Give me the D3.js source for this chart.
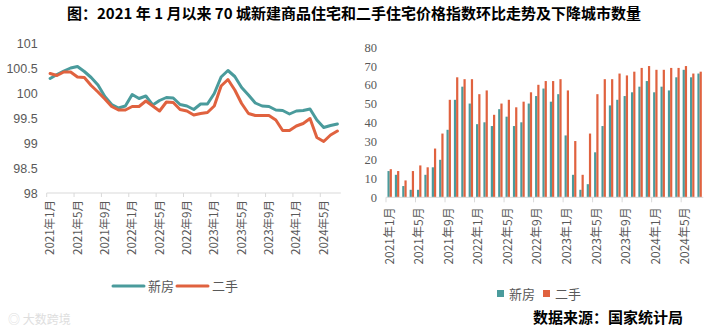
<!DOCTYPE html>
<html>
<head>
<meta charset="utf-8">
<script src="https://cdn.jsdelivr.net/npm/d3@7"></script>
<style>
  body { margin: 0; background: #fff; }
  svg text { font-family: "Noto Sans CJK SC", "Liberation Sans", sans-serif; }
</style>
</head>
<body>
<svg id="chart" width="708" height="334"></svg>
<script>
// months on the x axis (Jan 2021 - Jul 2024)
var months = [
  "2021年1月","2021年2月","2021年3月","2021年4月","2021年5月","2021年6月","2021年7月","2021年8月","2021年9月","2021年10月","2021年11月","2021年12月",
  "2022年1月","2022年2月","2022年3月","2022年4月","2022年5月","2022年6月","2022年7月","2022年8月","2022年9月","2022年10月","2022年11月","2022年12月",
  "2023年1月","2023年2月","2023年3月","2023年4月","2023年5月","2023年6月","2023年7月","2023年8月","2023年9月","2023年10月","2023年11月","2023年12月",
  "2024年1月","2024年2月","2024年3月","2024年4月","2024年5月","2024年6月","2024年7月"
];
var tickLabels = ["2021年1月","2021年5月","2021年9月","2022年1月","2022年5月","2022年9月",
  "2023年1月","2023年5月","2023年9月","2024年1月","2024年5月"];

// price index, previous month = 100
var newIndex = [100.29,100.37,100.44,100.50,100.53,100.43,100.31,100.16,99.93,99.77,99.70,99.74,
  99.97,99.89,99.94,99.76,99.85,99.91,99.90,99.77,99.74,99.67,99.78,99.78,
  99.99,100.32,100.45,100.33,100.11,99.96,99.80,99.74,99.73,99.66,99.65,99.58,
  99.64,99.65,99.68,99.46,99.31,99.35,99.38];
var oldIndex = [100.39,100.35,100.42,100.42,100.32,100.31,100.15,100.02,99.88,99.73,99.66,99.66,
  99.73,99.73,99.84,99.74,99.64,99.82,99.81,99.67,99.64,99.56,99.59,99.61,
  99.74,100.14,100.27,100.06,99.79,99.59,99.55,99.55,99.55,99.46,99.25,99.25,
  99.34,99.39,99.49,99.11,99.03,99.16,99.24];
var leftTicks = [98, 98.5, 99, 99.5, 100, 100.5, 101];

// number of cities with falling prices
var newDown = [14,12,6,4,4,12,16,20,36,52,59,50,
  39,40,38,47,43,38,40,50,54,58,51,55,
  33,12,4,7,24,38,49,52,54,56,59,62,
  56,59,57,64,68,64,66];
var oldDown = [15,14,9,14,17,16,26,34,52,64,63,63,
  55,57,44,50,52,48,51,56,60,62,62,63,
  57,30,12,34,55,63,63,66,65,67,69,70,
  68,68,69,69,70,66,67];
var rightTicks = [0,10,20,30,40,50,60,70,80];

var series = ["新房", "二手"];
var teal = "#4a9b9c", orange = "#e0623f";
var axisGrey = "#d9d9d9", textGrey = "#595959";

var svg = d3.select("#chart");

// title
svg.append("text")
  .attr("x", 354).attr("y", 19)
  .attr("text-anchor", "middle")
  .style("font-size", "15px").style("font-weight", "bold")
  .attr("fill", "#000")
  .text("图：2021 年 1 月以来 70 城新建商品住宅和二手住宅价格指数环比走势及下降城市数量");

// ---------- left: line chart ----------
var lx = d3.scaleBand().domain(months).range([46.7, 340.8]);
var ly = d3.scaleLinear().domain([98, 101]).range([193, 43]);

svg.append("g")
  .attr("transform", "translate(46.7,0)")
  .call(d3.axisLeft(ly).tickValues(leftTicks).tickSize(0).tickPadding(9).tickFormat(d => d))
  .call(g => g.select(".domain").remove())
  .selectAll("text")
  .style("font-size", "12.5px").attr("fill", textGrey)
  .style("font-family", "'Liberation Sans', sans-serif");

var lxAxis = svg.append("g")
  .attr("transform", "translate(0,193)")
  .call(d3.axisBottom(lx).tickValues(tickLabels).tickSize(0))
  .call(g => g.select(".domain").remove());
lxAxis.selectAll("text")
  .attr("transform", "rotate(-90)")
  .attr("text-anchor", "end")
  .attr("x", -7).attr("y", 0).attr("dy", "0.35em")
  .style("font-size", "11.5px").attr("fill", textGrey);
lxAxis.append("line")
  .attr("x1", 46.7).attr("x2", 340.8)
  .attr("stroke", axisGrey);
lxAxis.selectAll(".tk")
  .data(tickLabels).enter().append("line")
  .attr("x1", d => lx(d)).attr("x2", d => lx(d))
  .attr("y1", 0).attr("y2", 4)
  .attr("stroke", axisGrey);

var line = d3.line()
  .x((d, i) => lx(months[i]) + lx.bandwidth() / 2)
  .y(d => ly(d));

[[newIndex, teal], [oldIndex, orange]].forEach(function(s) {
  svg.append("path")
    .datum(s[0])
    .attr("d", line)
    .attr("fill", "none")
    .attr("stroke", s[1])
    .attr("stroke-width", 3)
    .attr("stroke-linejoin", "round")
    .attr("stroke-linecap", "round");
});

// left legend
var legL = svg.append("g").attr("transform", "translate(113,286)");
[[teal, 0], [orange, 64]].forEach(function(s, i) {
  legL.append("line")
    .attr("x1", s[1]).attr("x2", s[1] + 31)
    .attr("stroke", s[0]).attr("stroke-width", 3).attr("stroke-linecap", "round");
  legL.append("text")
    .attr("x", s[1] + 35).attr("y", 0).attr("dy", "0.35em")
    .style("font-size", "13px").attr("fill", textGrey)
    .text(series[i]);
});

// ---------- right: bar chart ----------
var rx = d3.scaleBand().domain(months).range([386, 703.3]).paddingInner(0.4).paddingOuter(0.2);
var rx2 = d3.scaleBand().domain(series).range([0, rx.bandwidth()]);
var ry = d3.scaleLinear().domain([0, 80]).range([197.3, 47.3]);

svg.append("g")
  .attr("transform", "translate(386,0)")
  .call(d3.axisLeft(ry).tickValues(rightTicks).tickSize(0).tickPadding(9))
  .call(g => g.select(".domain").remove())
  .selectAll("text")
  .style("font-size", "12.5px").attr("fill", textGrey)
  .style("font-family", "'Liberation Serif', serif");

var bars = svg.append("g");
[[newDown, teal], [oldDown, orange]].forEach(function(s, k) {
  bars.selectAll(".b" + k)
    .data(s[0]).enter().append("rect")
    .attr("x", (d, i) => rx(months[i]) + rx2(series[k]))
    .attr("y", d => ry(d))
    .attr("width", rx2.bandwidth())
    .attr("height", d => ry(0) - ry(d))
    .attr("fill", s[1]);
});

var step = rx.step();
var rxAxis = svg.append("g")
  .attr("transform", "translate(0,197.3)")
  .call(d3.axisBottom(rx).tickValues(tickLabels).tickSize(0))
  .call(g => g.select(".domain").remove());
rxAxis.selectAll("text")
  .attr("transform", "rotate(-90)")
  .attr("text-anchor", "end")
  .attr("x", -10).attr("y", 0).attr("dy", "0.35em")
  .style("font-size", "12px").attr("fill", textGrey);
rxAxis.append("line")
  .attr("x1", 386).attr("x2", 703.3)
  .attr("stroke", axisGrey);
rxAxis.selectAll(".tk")
  .data(tickLabels).enter().append("line")
  .attr("x1", d => rx(d) - step * 0.2).attr("x2", d => rx(d) - step * 0.2)
  .attr("y1", 0).attr("y2", 5)
  .attr("stroke", axisGrey);

// right legend
var legR = svg.append("g").attr("transform", "translate(497,294)");
[[teal, 0], [orange, 46]].forEach(function(s, i) {
  legR.append("rect")
    .attr("x", s[1]).attr("y", -4).attr("width", 7).attr("height", 7)
    .attr("fill", s[0]);
  legR.append("text")
    .attr("x", s[1] + 12).attr("y", 0).attr("dy", "0.35em")
    .style("font-size", "13px").attr("fill", textGrey)
    .text(series[i]);
});

// source
svg.append("text")
  .attr("x", 533).attr("y", 323)
  .style("font-size", "15px").style("font-weight", "bold")
  .attr("fill", "#000")
  .text("数据来源：国家统计局");

// faint watermark
svg.append("text")
  .attr("x", 8).attr("y", 324)
  .style("font-size", "12px")
  .attr("fill", "#dedede")
  .text("◎ 大数跨境");
</script>
</body>
</html>
